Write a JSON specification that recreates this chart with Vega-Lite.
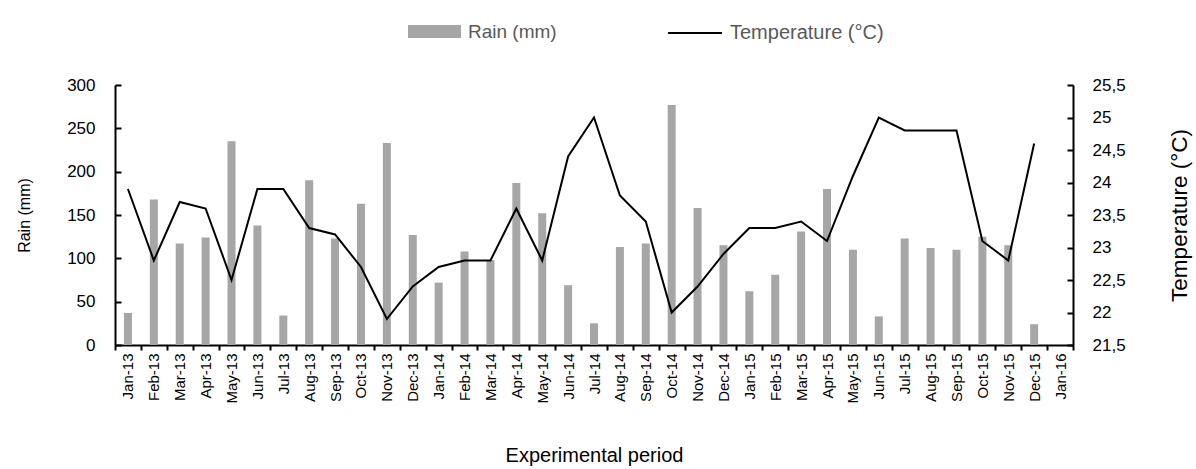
{
  "$schema": "https://vega.github.io/schema/vega-lite/v6.json",
  "autosize": {"type": "none"},
  "width": 958,
  "height": 260,
  "padding": {"left": 115, "top": 85, "right": 123, "bottom": 124},
  "config": {
    "font": "Liberation Sans",
    "view": {"stroke": null},
    "axis": {"grid": false, "domainColor": "#000000", "tickColor": "#000000", "labelColor": "#000000", "titleColor": "#000000", "domainWidth": 2, "tickWidth": 2, "labelFont": "Liberation Sans", "titleFont": "Liberation Sans"},
    "legend": {"labelFont": "Liberation Sans"}
  },
  "data": {
    "values": [
      {"m": "Jan-13", "rain": 37, "temp": 23.9},
      {"m": "Feb-13", "rain": 168, "temp": 22.8},
      {"m": "Mar-13", "rain": 117, "temp": 23.7},
      {"m": "Apr-13", "rain": 124, "temp": 23.6},
      {"m": "May-13", "rain": 235, "temp": 22.5},
      {"m": "Jun-13", "rain": 138, "temp": 23.9},
      {"m": "Jul-13", "rain": 34, "temp": 23.9},
      {"m": "Aug-13", "rain": 190, "temp": 23.3},
      {"m": "Sep-13", "rain": 123, "temp": 23.2},
      {"m": "Oct-13", "rain": 163, "temp": 22.7},
      {"m": "Nov-13", "rain": 233, "temp": 21.9},
      {"m": "Dec-13", "rain": 127, "temp": 22.4},
      {"m": "Jan-14", "rain": 72, "temp": 22.7},
      {"m": "Feb-14", "rain": 108, "temp": 22.8},
      {"m": "Mar-14", "rain": 98, "temp": 22.8},
      {"m": "Apr-14", "rain": 187, "temp": 23.6},
      {"m": "May-14", "rain": 152, "temp": 22.8},
      {"m": "Jun-14", "rain": 69, "temp": 24.4},
      {"m": "Jul-14", "rain": 25, "temp": 25.0},
      {"m": "Aug-14", "rain": 113, "temp": 23.8},
      {"m": "Sep-14", "rain": 117, "temp": 23.4},
      {"m": "Oct-14", "rain": 277, "temp": 22.0},
      {"m": "Nov-14", "rain": 158, "temp": 22.4},
      {"m": "Dec-14", "rain": 115, "temp": 22.9},
      {"m": "Jan-15", "rain": 62, "temp": 23.3},
      {"m": "Feb-15", "rain": 81, "temp": 23.3},
      {"m": "Mar-15", "rain": 131, "temp": 23.4},
      {"m": "Apr-15", "rain": 180, "temp": 23.1},
      {"m": "May-15", "rain": 110, "temp": 24.1},
      {"m": "Jun-15", "rain": 33, "temp": 25.0},
      {"m": "Jul-15", "rain": 123, "temp": 24.8},
      {"m": "Aug-15", "rain": 112, "temp": 24.8},
      {"m": "Sep-15", "rain": 110, "temp": 24.8},
      {"m": "Oct-15", "rain": 125, "temp": 23.1},
      {"m": "Nov-15", "rain": 115, "temp": 22.8},
      {"m": "Dec-15", "rain": 24, "temp": 24.6}
    ]
  },
  "encoding": {
    "x": {
      "field": "m",
      "type": "nominal",
      "scale": {"domain": ["Jan-13","Feb-13","Mar-13","Apr-13","May-13","Jun-13","Jul-13","Aug-13","Sep-13","Oct-13","Nov-13","Dec-13","Jan-14","Feb-14","Mar-14","Apr-14","May-14","Jun-14","Jul-14","Aug-14","Sep-14","Oct-14","Nov-14","Dec-14","Jan-15","Feb-15","Mar-15","Apr-15","May-15","Jun-15","Jul-15","Aug-15","Sep-15","Oct-15","Nov-15","Dec-15","Jan-16"], "paddingInner": 0, "paddingOuter": 0},
      "axis": {
        "title": "Experimental period",
        "titleFontSize": 20,
        "titleFontWeight": "normal",
        "titleY": 110,
        "titleBaseline": "middle",
        "labelAngle": 270,
        "labelFontSize": 15,
        "labelPadding": 3,
        "tickBand": "extent",
        "tickSize": 5
      }
    }
  },
  "layer": [
    {
      "mark": {"type": "bar", "size": 8},
      "encoding": {
        "y": {
          "field": "rain",
          "type": "quantitative",
          "scale": {"domain": [0, 300], "nice": false},
          "axis": {
            "title": "Rain (mm)",
            "titleFontSize": 16,
            "titleFontWeight": "normal",
            "titleAngle": 270,
            "titleX": -91,
            "titleY": 130,
            "titleBaseline": "middle",
            "titleAlign": "center",
            "values": [0, 50, 100, 150, 200, 250, 300],
            "labelFontSize": 17,
            "labelPadding": 26,
            "tickSize": -6,
            "orient": "left"
          }
        },
        "fill": {
          "datum": "Rain (mm)",
          "scale": {"range": ["#a6a6a6"]},
          "legend": {
            "title": null,
            "orient": "none",
            "legendX": 293,
            "legendY": -80,
            "padding": 0,
            "symbolType": "M-1,-0.245H1V0.245H-1Z",
            "symbolSize": 2809,
            "symbolStrokeWidth": 0,
            "labelFontSize": 19,
            "labelLimit": 300,
            "labelColor": "#595959",
            "labelOffset": 7
          }
        }
      }
    },
    {
      "mark": {"type": "line", "strokeWidth": 2},
      "encoding": {
        "y": {
          "field": "temp",
          "type": "quantitative",
          "scale": {"domain": [21.5, 25.5], "nice": false, "zero": false},
          "axis": {
            "title": "Temperature (°C)",
            "titleFontSize": 22.5,
            "titleFontWeight": "normal",
            "titleAngle": 270,
            "titleX": 106,
            "titleY": 130,
            "titleBaseline": "middle",
            "titleAlign": "center",
            "values": [21.5, 22, 22.5, 23, 23.5, 24, 24.5, 25, 25.5],
            "labelExpr": "replace(format(datum.value, '.1~f'), '.', ',')",
            "labelFontSize": 17,
            "labelPadding": 25,
            "tickSize": -6,
            "orient": "right"
          }
        },
        "stroke": {
          "datum": "Temperature (°C)",
          "scale": {"range": ["#000000"]},
          "legend": {
            "title": null,
            "orient": "none",
            "legendX": 552,
            "legendY": -80,
            "padding": 0,
            "symbolType": "stroke",
            "symbolSize": 2916,
            "symbolStrokeWidth": 2,
            "labelFontSize": 20,
            "labelLimit": 300,
            "labelColor": "#595959",
            "labelOffset": 7
          }
        }
      }
    }
  ],
  "resolve": {"scale": {"y": "independent"}}
}
